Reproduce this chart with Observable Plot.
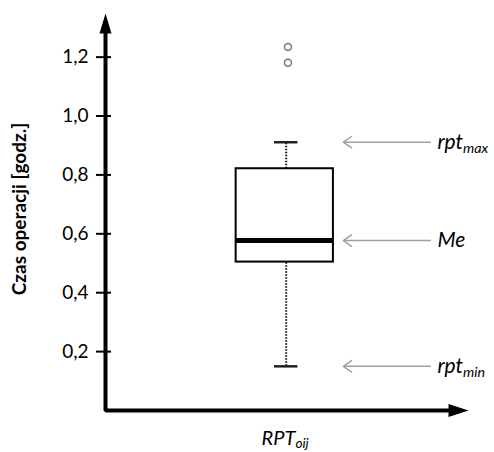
<!DOCTYPE html>
<html>
<head>
<meta charset="utf-8">
<script src="https://cdn.jsdelivr.net/npm/d3@7"></script>
<script src="https://cdn.jsdelivr.net/npm/@observablehq/plot@0.6"></script>
<style>
  body { margin: 0; background: #fff; }
</style>
</head>
<body>
<div id="chart"></div>
<script>
// ---- data ----
const yTicks = [0.2, 0.4, 0.6, 0.8, 1.0, 1.2];
const quartiles = [0.504, 0.577, 0.821];   // Q1, median (Me), Q3
const whiskers = [0.150, 0.911];           // rpt_min, rpt_max
const outliers = [1.181, 1.234];
const category = "RPT_oij";
const yLabel = "Czas operacji [godz.]";
const annotLabels = ["rpt_max", "Me", "rpt_min"];
const annotValues = [whiskers[1], quartiles[1], whiskers[0]];

// ---- derived tables ----
const box = [{q1: quartiles[0], med: quartiles[1], q3: quartiles[2], lo: whiskers[0], hi: whiskers[1]}];
const annotations = annotLabels.map((label, i) => ({label, y: annotValues[i]}));
const xDomain = [0, 1];
const yDomain = [0, 1.321];
const axisPath = [[xDomain[1], yDomain[0]], [xDomain[0], yDomain[0]], [xDomain[0], yDomain[1]]];

const triRight = {draw(ctx) { ctx.moveTo(8, 0); ctx.lineTo(-12, -6.5); ctx.lineTo(-12, 6.5); ctx.closePath(); }};
const triUp = {draw(ctx) { ctx.moveTo(0, -8); ctx.lineTo(-6, 12); ctx.lineTo(6, 12); ctx.closePath(); }};

const fmt = d => d.toFixed(1).replace(".", ",");

const svg = Plot.plot({
  width: 494,
  height: 452,
  marginLeft: 105,
  marginRight: 34,
  marginTop: 21,
  marginBottom: 42,
  style: {fontFamily: "Lato, 'Open Sans', sans-serif", background: "white", color: "black", overflow: "visible"},
  x: {domain: xDomain, axis: null},
  y: {domain: yDomain},
  marks: [
    // axis lines
    Plot.line(axisPath, {x: d => d[0], y: d => d[1], stroke: "black", strokeWidth: 4, strokeLinejoin: "miter", strokeLinecap: "butt"}),
    Plot.dot([axisPath[0]], {x: d => d[0], y: d => d[1], symbol: triRight, fill: "black", r: 5}),
    Plot.dot([axisPath[2]], {x: d => d[0], y: d => d[1], symbol: triUp, fill: "black", r: 5}),
    // y ticks crossing the axis
    Plot.axisY(yTicks, {tickSize: 15, dx: 6, fill: "none", stroke: "black", strokeWidth: 2, label: null}),
    Plot.axisY(yTicks, {tickSize: 0, tickPadding: 17, tickFormat: fmt, fontSize: 19, fill: "black", label: null}),
    // y label
    Plot.text([yLabel], {frameAnchor: "left", textAnchor: "middle", rotate: -90, dx: -86, dy: -7, text: d => d, fontSize: 19, fontWeight: "bold", fill: "black"}),
    // whiskers
    Plot.ruleX(box, {x: 0.509, y1: "q3", y2: "hi", stroke: "#111", strokeWidth: 2, strokeDasharray: "1.5,1.5"}),
    Plot.ruleX(box, {x: 0.509, y1: "lo", y2: "q1", stroke: "#111", strokeWidth: 2, strokeDasharray: "1.5,1.5"}),
    Plot.ruleY(whiskers, {y: d => d, x1: 0.476, x2: 0.542, stroke: "#222", strokeWidth: 2.5}),
    // box
    Plot.rect(box, {x1: 0.368, x2: 0.642, y1: "q1", y2: "q3", fill: "white", stroke: "black", strokeWidth: 2}),
    Plot.ruleY(box, {y: "med", x1: 0.368, x2: 0.642, stroke: "black", strokeWidth: 5}),
    // outliers
    Plot.dot(outliers, {x: 0.514, y: d => d, r: 3.5, stroke: "#777", strokeWidth: 1.5, fill: "white"}),
    // annotations
    Plot.arrow(annotations, {x1: 0.915, x2: 0.670, y: "y", stroke: "#a0a0a0", strokeWidth: 1.5, headLength: 10, headAngle: 70}),
    Plot.text(annotations, {x: 0.935, y: "y", text: "label", textAnchor: "start", fontSize: 21, fontStyle: "italic", fill: "black"}),
    // x label
    Plot.text([category], {x: 0.506, y: 0, dy: 28, text: d => d, fontSize: 20, fontStyle: "italic", fill: "black"})
  ]
});

// subscripts: "base_sub" -> base + subscript tspan
const ns = "http://www.w3.org/2000/svg";
svg.querySelectorAll("text").forEach(t => {
  if (t.children.length === 0 && t.textContent.includes("_")) {
    const [b, s] = t.textContent.split("_");
    t.textContent = b;
    const ts = document.createElementNS(ns, "tspan");
    ts.setAttribute("font-size", "0.68em");
    ts.setAttribute("dy", "0.25em");
    ts.textContent = s;
    t.appendChild(ts);
  }
});

document.getElementById("chart").appendChild(svg);
</script>
</body>
</html>
